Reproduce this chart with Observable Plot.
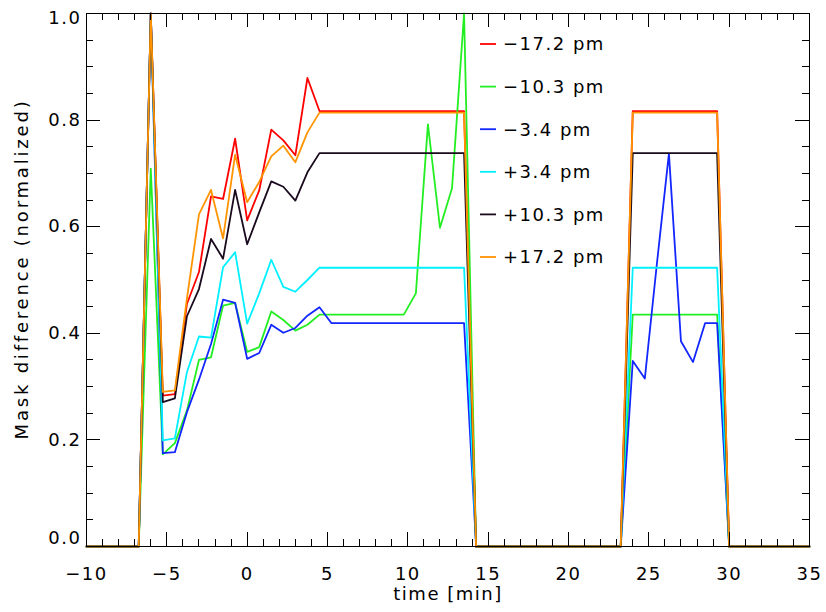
<!DOCTYPE html>
<html>
<head>
<meta charset="utf-8">
<script src="https://cdn.jsdelivr.net/npm/d3@7"></script>
<script src="https://cdn.jsdelivr.net/npm/@observablehq/plot@0.6"></script>
<style>
  body { margin: 0; background: #fff; }
  #chart svg text { letter-spacing: 1.5px; }
  #chart svg .ytitle text { letter-spacing: 2.8px; }
</style>
</head>
<body>
<div id="chart"></div>
<script>
// Sample times in minutes
const times = [-10, -6.75, -6, -5.25, -4.5, -3.75, -3, -2.25, -1.5, -0.75, 0, 0.75, 1.5, 2.25, 3, 3.75, 4.5, 5.25,
  9.75, 10.5, 11.25, 12, 12.75, 13.5, 14.25, 23.25, 24, 24.75, 25.5, 26.25, 27, 27.75, 28.5, 29.25, 30, 35];

// Normalized mask difference for each wavelength offset
const minus172 = [0, 0, 1.0, 0.283, 0.286, 0.455, 0.515, 0.657, 0.652, 0.765, 0.612, 0.668, 0.782, 0.762, 0.734, 0.879, 0.817, 0.817,
  0.817, 0.817, 0.817, 0.817, 0.817, 0.817, 0, 0, 0.817, 0.817, 0.817, 0.817, 0.817, 0.817, 0.817, 0.817, 0, 0];
const minus103 = [0, 0, 0.709, 0.173, 0.194, 0.255, 0.35, 0.355, 0.452, 0.457, 0.365, 0.374, 0.441, 0.425, 0.405, 0.416, 0.435, 0.435,
  0.435, 0.475, 0.792, 0.598, 0.672, 1.0, 0, 0, 0.435, 0.435, 0.435, 0.435, 0.435, 0.435, 0.435, 0.435, 0, 0];
const minus34 = [0, 0, 1.0, 0.175, 0.177, 0.252, 0.313, 0.38, 0.463, 0.457, 0.352, 0.363, 0.416, 0.401, 0.41, 0.433, 0.449, 0.419,
  0.419, 0.419, 0.419, 0.419, 0.419, 0.419, 0, 0, 0.348, 0.315, 0.53, 0.737, 0.385, 0.346, 0.419, 0.419, 0, 0];
const plus34 = [0, 0, 1.0, 0.199, 0.203, 0.327, 0.394, 0.392, 0.524, 0.552, 0.418, 0.475, 0.538, 0.487, 0.478, 0.5, 0.523, 0.523,
  0.523, 0.523, 0.523, 0.523, 0.523, 0.523, 0, 0, 0.523, 0.523, 0.523, 0.523, 0.523, 0.523, 0.523, 0.523, 0, 0];
const plus103 = [0, 0, 1.0, 0.271, 0.278, 0.432, 0.483, 0.577, 0.54, 0.669, 0.567, 0.627, 0.685, 0.675, 0.649, 0.702, 0.738, 0.738,
  0.738, 0.738, 0.738, 0.738, 0.738, 0.738, 0, 0, 0.738, 0.738, 0.738, 0.738, 0.738, 0.738, 0.738, 0.738, 0, 0];
const plus172 = [0, 0, 1.0, 0.29, 0.293, 0.465, 0.623, 0.669, 0.578, 0.735, 0.646, 0.684, 0.732, 0.752, 0.721, 0.777, 0.814, 0.814,
  0.814, 0.814, 0.814, 0.814, 0.814, 0.814, 0, 0, 0.814, 0.814, 0.814, 0.814, 0.814, 0.814, 0.814, 0.814, 0, 0];

const seriesNames = ["−17.2 pm", "−10.3 pm", "−3.4 pm", "+3.4 pm", "+10.3 pm", "+17.2 pm"];
const seriesValues = [minus172, minus103, minus34, plus34, plus103, plus172];
const seriesColors = ["#ff0000", "#22ee22", "#1226ff", "#00f0ff", "#1a0a1e", "#ff9400"];

const xTickValues = [-10, -5, 0, 5, 10, 15, 20, 25, 30, 35];
const yTickValues = [0, 0.2, 0.4, 0.6, 0.8, 1.0];

// Long table: one row per (series, time)
const rows = seriesNames.flatMap((name, i) =>
  times.map((t, j) => ({series: name, time: t, value: seriesValues[i][j]})));

// Pick out scales and dimensions from the render-function arguments
function parts(args) {
  const scales = args.find(a => a && typeof a.x === "function" && typeof a.y === "function");
  const dims = args.find(a => a && typeof a === "object" && "marginLeft" in a && "width" in a);
  return {scales, dims};
}

// Inward-facing ticks on all four sides of the frame
function frameTicks(...args) {
  const {scales, dims} = parts(args);
  const {x, y} = scales;
  const left = dims.marginLeft, right = dims.width - dims.marginRight;
  const top = dims.marginTop, bottom = dims.height - dims.marginBottom;
  const g = d3.create("svg:g").attr("stroke", "#000").attr("stroke-width", 1).attr("shape-rendering", "crispEdges");
  for (const t of d3.range(-10, 35.001, 1)) {
    const len = xTickValues.includes(t) ? 14 : 7;
    const px = Math.round(x(t)) + 0.5;
    g.append("line").attr("x1", px).attr("x2", px).attr("y1", bottom).attr("y2", bottom - len);
    g.append("line").attr("x1", px).attr("x2", px).attr("y1", top).attr("y2", top + len);
  }
  for (let k = 0; k <= 20; k++) {
    const v = k / 20;
    const len = k % 4 === 0 ? 14 : 7;
    const py = Math.round(y(v)) + 0.5;
    g.append("line").attr("x1", left).attr("x2", left + len).attr("y1", py).attr("y2", py);
    g.append("line").attr("x1", right).attr("x2", right - len).attr("y1", py).attr("y2", py);
  }
  return g.node();
}

// Series key drawn inside the plot area
function seriesKey() {
  const g = d3.create("svg:g").attr("font-family", "DejaVu Sans").attr("font-size", 18)
    .attr("fill", "#000").attr("text-anchor", "start");
  seriesNames.forEach((name, i) => {
    const cy = 44 + i * 42.6;
    g.append("line").attr("x1", 480).attr("x2", 496).attr("y1", cy).attr("y2", cy)
      .attr("stroke", seriesColors[i]).attr("stroke-width", 1.8);
    g.append("text").attr("x", 503).attr("y", cy).attr("dy", "0.36em").text(name);
  });
  return g.node();
}

const yFmt = d3.format(".1f");

const chart = Plot.plot({
  width: 826,
  height: 612,
  marginLeft: 86,
  marginRight: 17,
  marginTop: 13,
  marginBottom: 66,
  style: {fontFamily: "DejaVu Sans", fontSize: "18px", color: "#000", background: "#fff"},
  x: {domain: [-10, 35], axis: null},
  y: {domain: [0, 1], axis: null},
  color: {domain: seriesNames, range: seriesColors},
  marks: [
    Plot.line(rows, {x: "time", y: "value", z: "series", stroke: "series", strokeWidth: 1.8}),
    Plot.frame({stroke: "#000", strokeWidth: 1}),
    frameTicks,
    Plot.axisX(xTickValues, {tickSize: 0, tickPadding: 21, label: null, fontSize: 18}),
    Plot.axisY([0.2, 0.4, 0.6, 0.8], {tickSize: 0, tickPadding: 5, tickFormat: yFmt, label: null, fontSize: 18}),
    Plot.axisY([1.0], {tickSize: 0, tickPadding: 5, tickFormat: yFmt, label: null, fontSize: 18, dy: 5}),
    Plot.axisY([0], {tickSize: 0, tickPadding: 5, tickFormat: yFmt, label: null, fontSize: 18, dy: -8}),
    Plot.text(["time [min]"], {frameAnchor: "bottom", dy: 48, fontSize: 18, textAnchor: "middle", lineAnchor: "middle"}),
    Plot.text(["Mask difference (normalized)"], {frameAnchor: "left", dx: -64, dy: -11, rotate: -90, fontSize: 18,
      textAnchor: "middle", lineAnchor: "middle", className: "ytitle"}),
    seriesKey
  ]
});

document.getElementById("chart").appendChild(chart);
</script>
</body>
</html>
